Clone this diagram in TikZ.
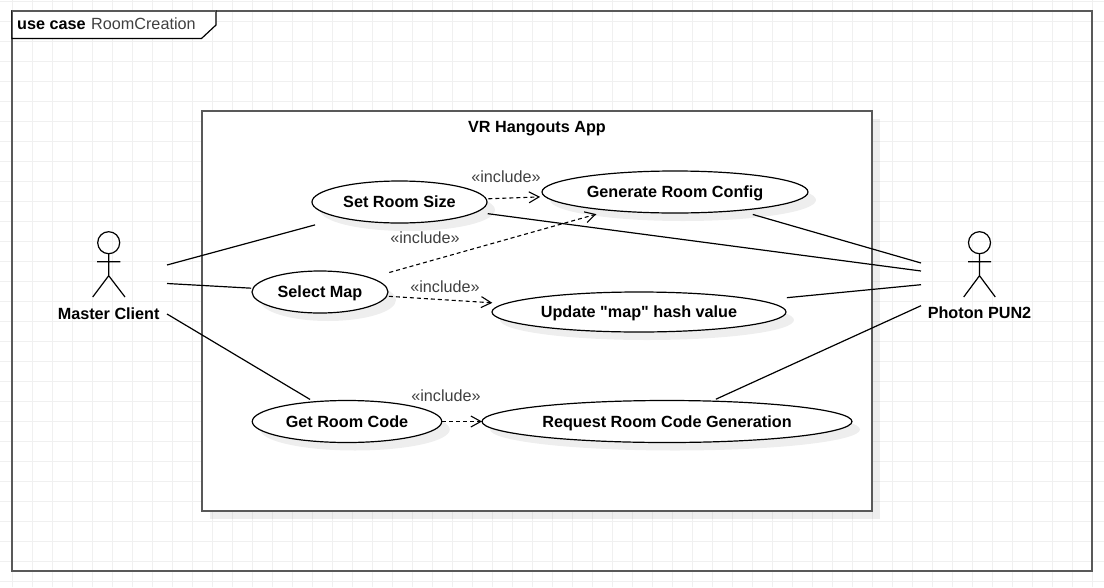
\documentclass[tikz,border=0pt]{standalone}
\usepackage{fontspec}
\setmainfont{Liberation Sans}
\newfontfamily\rawfont{Liberation Sans}
\usetikzlibrary{shapes.geometric,shadows,arrows.meta}
\definecolor{gridc}{HTML}{F0F0F0}
\definecolor{framec}{HTML}{595959}
\definecolor{stereo}{HTML}{404040}
\newcommand{\lblfont}{\fontsize{16.2}{19}\selectfont}
\tikzset{
  usecase/.style={ellipse,draw=black,line width=1.2pt,fill=white,inner sep=0pt,font=\lblfont\bfseries,
    text height=13.5pt,text depth=2.1pt,
    drop shadow={shadow xshift=8pt,shadow yshift=-8pt,fill=black,opacity=.065}},
  assoc/.style={draw=black,line width=1.2pt},
  incl/.style={draw=black,line width=1.1pt,dash pattern=on 4pt off 3pt,-{Straight Barb[length=10pt,width=11pt,line width=1.1pt]}},
  stereotype/.style={font=\lblfont,text=stereo,inner sep=0pt},
  actorlabel/.style={font=\lblfont\bfseries,inner sep=0pt,text height=11.5pt,text depth=2.1pt},
  stick/.style={draw=black,line width=1.2pt},
}
\begin{document}
\begin{tikzpicture}[x=1pt,y=-1pt]
\useasboundingbox (0,0) rectangle (1104,587);
\fill[white] (0,0) rectangle (1104,587);
% grid
\foreach \i in {0,...,54}{\draw[gridc,line width=1pt] ({12.3+20*\i},0) -- ({12.3+20*\i},587);}
\foreach \i in {0,...,29}{\draw[gridc,line width=1pt] (0,{1.7+20*\i}) -- (1104,{1.7+20*\i});}
% frame
\draw[framec,line width=2pt] (12,11) rectangle (1092,571);
\draw[fill=white,draw=black,line width=1.2pt] (12,11) -- (216,11) -- (216,25) -- (201.5,38.5) -- (12,38.5) -- cycle;
\draw[framec,line width=2pt] (12,11) -- (216,11);
\node[anchor=base west,inner sep=0pt,font=\lblfont\bfseries] (kw) at (17,29.5) {use case};
\node[anchor=base west,inner sep=0pt,font=\lblfont,text=stereo] (fname) at (91,29.5) {RoomCreation};
% system box
\node[rectangle,draw=framec,line width=2pt,fill=white,minimum width=670pt,minimum height=400pt,inner sep=0pt,
  drop shadow={shadow xshift=8pt,shadow yshift=-8pt,fill=black,opacity=.065}] (sys) at (537,311) {};
\node[anchor=base,inner sep=0pt,font=\lblfont\bfseries] (systitle) at (537,132) {VR Hangouts App};
% use cases
\node[usecase,minimum width=175pt,minimum height=42pt] (setsize) at (399.5,202) {Set Room Size};
\node[usecase,minimum width=136pt,minimum height=42pt] (selmap) at (320,292) {Select Map};
\node[usecase,minimum width=266pt,minimum height=42pt] (genconf) at (675,192) {Generate Room Config};
\node[usecase,minimum width=294pt,minimum height=40pt] (update) at (639,312) {{\rawfont\bfseries Update "map" hash value}};
\node[usecase,minimum width=189.5pt,minimum height=42pt] (getcode) at (347,421.5) {Get Room Code};
\node[usecase,minimum width=370pt,minimum height=42pt] (reqcode) at (667,421.5) {Request Room Code Generation};
% actors
\draw[stick] (108.7,242.7) circle[radius=11];
\draw[stick] (108.7,253.7) -- (108.7,275.7) (97,261.7) -- (120.4,261.7) (92.7,297) -- (108.7,275.7) -- (125,297);
\node[actorlabel] (master) at (108.7,314.5) {Master Client};
\draw[stick] (979.5,242.7) circle[radius=11];
\draw[stick] (979.5,253.7) -- (979.5,275.7) (968,261.7) -- (991.2,261.7) (963.7,297) -- (979.5,275.7) -- (995.3,297);
\node[actorlabel] (photon) at (979.5,314) {Photon PUN2};
% free ends at the actors
\coordinate (mcA) at (167,265);
\coordinate (mcB) at (167,283.5);
\coordinate (mcC) at (167,314);
\coordinate (ppA) at (921,263);
\coordinate (ppB) at (921,271);
\coordinate (ppC) at (921,284.7);
\coordinate (ppD) at (921,305.7);
% associations
\draw[assoc,shorten >=87.5pt] (mcA) -- (setsize.center);
\draw[assoc,shorten >=69pt] (mcB) -- (selmap.center);
\draw[assoc,shorten >=43pt] (mcC) -- (getcode.center);
\draw[assoc,shorten >=81pt] (ppA) -- (genconf.center);
\draw[assoc,shorten >=89pt] (ppB) -- (setsize.center);
\draw[assoc,shorten >=148.6pt] (ppC) -- (update.center);
\draw[assoc,shorten >=53.7pt] (ppD) -- (reqcode.center);
% includes
\draw[incl,shorten <=89pt,shorten >=135pt] (setsize.center) -- (genconf.center);
\draw[incl,shorten <=72pt,shorten >=81.7pt] (selmap.center) -- (genconf.center);
\draw[incl,shorten <=69pt,shorten >=147pt] (selmap.center) -- (update.center);
\draw[incl,shorten <=95pt,shorten >=185pt] (getcode.center) -- (reqcode.center);
\node[stereotype] (i1) at (506,177) {«include»};
\node[stereotype] (i2) at (425,238) {«include»};
\node[stereotype] (i3) at (445,287) {«include»};
\node[stereotype] (i4) at (446,396) {«include»};
\end{tikzpicture}
\end{document}
